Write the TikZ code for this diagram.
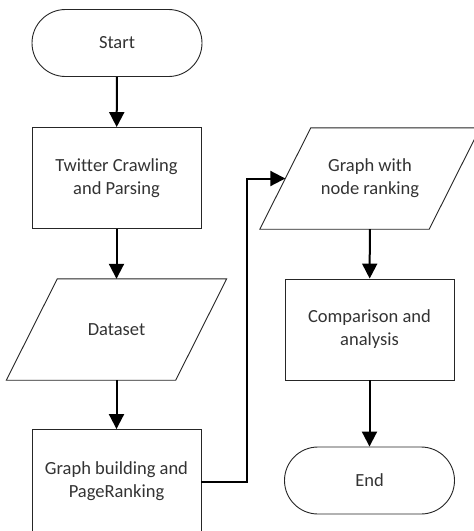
\documentclass[tikz,border=0pt]{standalone}
\usepackage{fontspec}
\setmainfont[Ligatures=NoCommon]{Carlito}
\usetikzlibrary{arrows.meta}
\begin{document}
\begin{tikzpicture}[x=1pt,y=-1pt,
  txt/.style={font=\fontsize{18.5}{23}\selectfont, text=black!80, align=center, inner sep=0pt},
  outline/.style={draw=black!85, line width=0.9pt},
  procbox/.style={txt, outline, minimum width=169pt, minimum height=101pt},
  termbox/.style={txt, outline, rounded corners=33.5pt, minimum width=170pt, minimum height=67pt},
  iobox/.style={txt, minimum width=169pt, minimum height=101pt},
  arr/.style={line width=2pt, draw=black, -{Triangle[length=15pt,width=15pt]}}
]
\useasboundingbox (0,0) rectangle (474,531);
\clip (0,0) rectangle (474,531);
\fill[white] (0,0) rectangle (474,531);

\node[termbox] (start) at (117,43) {Start};
\node[procbox] (crawl) at (116.5,178) {Twitter Crawling\\and Parsing};
\node[iobox] (data) at (116.5,329.5) {Dataset};
\node[procbox, minimum height=104pt] (build) at (116.5,481.5) {Graph building and\\PageRanking};
\node[iobox] (rank) at (370,178.5) {Graph with\\node ranking};
\node[procbox] (comp) at (369.5,329.5) {Comparison and\\analysis};
\node[termbox] (end) at (369.5,480.5) {End};
\coordinate (turn) at (246.5,481);

\foreach \n in {data,rank}{
  \draw[outline] ([xshift=25.5pt]\n.north west) -- ([xshift=25.5pt]\n.north east)
    -- ([xshift=-25.5pt]\n.south east) -- ([xshift=-25.5pt]\n.south west) -- cycle;
}

\draw[arr] (start) -- (crawl);
\draw[arr] (crawl) -- (data);
\draw[arr] (data) -- (build);
\draw[arr] (build.east) -- (build.east -| turn) |- (rank.west);
\draw[arr] (rank) -- (comp);
\draw[arr] (comp) -- (end);
\end{tikzpicture}
\end{document}
